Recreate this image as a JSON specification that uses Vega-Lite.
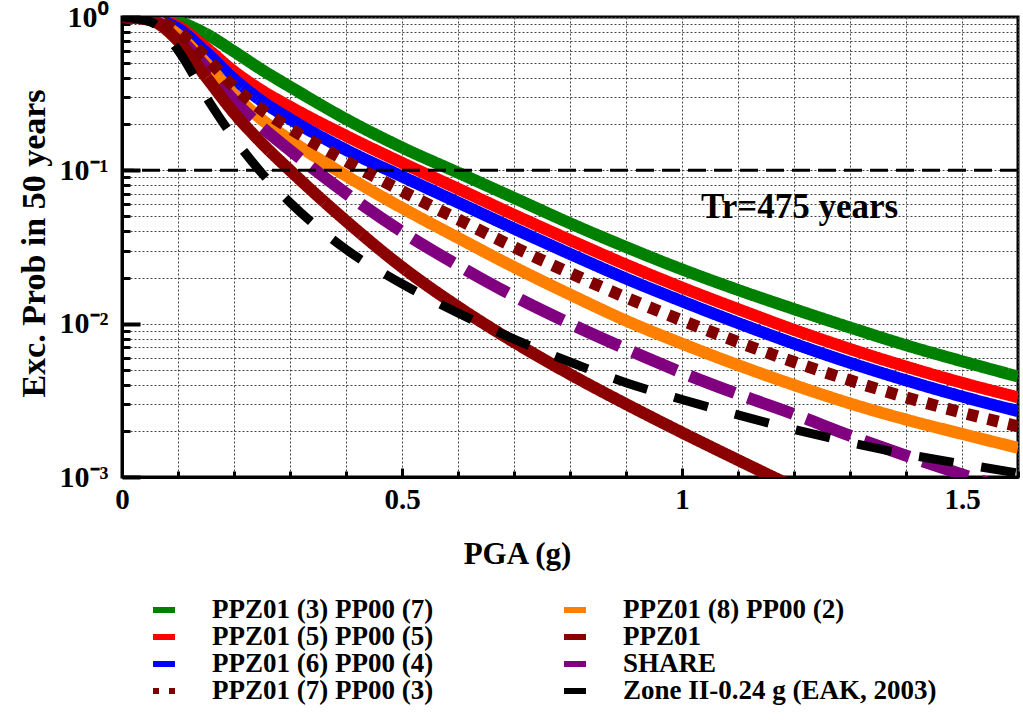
{
  "$schema": "https://vega.github.io/schema/vega-lite/v6.json",
  "width": 896,
  "height": 460,
  "autosize": {"type": "none"},
  "padding": {"left": 122, "top": 17, "right": 5, "bottom": 247},
  "background": "white",
  "config": {
    "view": {"stroke": "black", "strokeWidth": 3},
    "font": "Liberation Serif",
    "axis": {
      "domainColor": "black",
      "domainWidth": 3,
      "tickColor": "black",
      "gridColor": "#444444",
      "gridDash": [2, 2],
      "gridWidth": 1,
      "labelFont": "Liberation Serif",
      "labelFontWeight": "bold",
      "labelColor": "black",
      "titleFont": "Liberation Serif",
      "titleFontWeight": "bold",
      "titleColor": "black",
      "labelOverlap": false,
      "labelBound": false,
      "labelFlush": false
    },
    "legend": {
      "orient": "none",
      "legendX": 28,
      "legendY": 579,
      "direction": "vertical",
      "columns": 2,
      "symbolType": "stroke",
      "symbolSize": 484,
      "symbolStrokeWidth": 6,
      "symbolDashOffset": 5,
      "labelFont": "Liberation Serif",
      "labelFontWeight": "bold",
      "labelFontSize": 27,
      "labelColor": "black",
      "labelOffset": 34,
      "labelLimit": 400,
      "columnPadding": 118,
      "rowPadding": 0,
      "padding": 0,
      "title": null
    }
  },
  "datasets": {
    "curves": [
      {"series": "PPZ01 (3) PP00 (7)", "pga": 0, "p": 1},
      {"series": "PPZ01 (3) PP00 (7)", "pga": 0.05, "p": 0.993},
      {"series": "PPZ01 (3) PP00 (7)", "pga": 0.1, "p": 0.933},
      {"series": "PPZ01 (3) PP00 (7)", "pga": 0.15, "p": 0.776},
      {"series": "PPZ01 (3) PP00 (7)", "pga": 0.2, "p": 0.596},
      {"series": "PPZ01 (3) PP00 (7)", "pga": 0.25, "p": 0.452},
      {"series": "PPZ01 (3) PP00 (7)", "pga": 0.3, "p": 0.351},
      {"series": "PPZ01 (3) PP00 (7)", "pga": 0.4, "p": 0.216},
      {"series": "PPZ01 (3) PP00 (7)", "pga": 0.5, "p": 0.141},
      {"series": "PPZ01 (3) PP00 (7)", "pga": 0.6, "p": 0.0966},
      {"series": "PPZ01 (3) PP00 (7)", "pga": 0.7, "p": 0.0661},
      {"series": "PPZ01 (3) PP00 (7)", "pga": 0.8, "p": 0.0452},
      {"series": "PPZ01 (3) PP00 (7)", "pga": 0.9, "p": 0.0316},
      {"series": "PPZ01 (3) PP00 (7)", "pga": 1.0, "p": 0.0226},
      {"series": "PPZ01 (3) PP00 (7)", "pga": 1.1, "p": 0.0166},
      {"series": "PPZ01 (3) PP00 (7)", "pga": 1.2, "p": 0.01245},
      {"series": "PPZ01 (3) PP00 (7)", "pga": 1.3, "p": 0.00944},
      {"series": "PPZ01 (3) PP00 (7)", "pga": 1.4, "p": 0.00724},
      {"series": "PPZ01 (3) PP00 (7)", "pga": 1.5, "p": 0.00569},
      {"series": "PPZ01 (3) PP00 (7)", "pga": 1.6, "p": 0.00452},

      {"series": "PPZ01 (5) PP00 (5)", "pga": 0, "p": 1},
      {"series": "PPZ01 (5) PP00 (5)", "pga": 0.05, "p": 0.986},
      {"series": "PPZ01 (5) PP00 (5)", "pga": 0.1, "p": 0.871},
      {"series": "PPZ01 (5) PP00 (5)", "pga": 0.15, "p": 0.631},
      {"series": "PPZ01 (5) PP00 (5)", "pga": 0.2, "p": 0.442},
      {"series": "PPZ01 (5) PP00 (5)", "pga": 0.25, "p": 0.331},
      {"series": "PPZ01 (5) PP00 (5)", "pga": 0.3, "p": 0.26},
      {"series": "PPZ01 (5) PP00 (5)", "pga": 0.4, "p": 0.168},
      {"series": "PPZ01 (5) PP00 (5)", "pga": 0.5, "p": 0.112},
      {"series": "PPZ01 (5) PP00 (5)", "pga": 0.6, "p": 0.0759},
      {"series": "PPZ01 (5) PP00 (5)", "pga": 0.7, "p": 0.0513},
      {"series": "PPZ01 (5) PP00 (5)", "pga": 0.8, "p": 0.0351},
      {"series": "PPZ01 (5) PP00 (5)", "pga": 0.9, "p": 0.0243},
      {"series": "PPZ01 (5) PP00 (5)", "pga": 1.0, "p": 0.0172},
      {"series": "PPZ01 (5) PP00 (5)", "pga": 1.1, "p": 0.01245},
      {"series": "PPZ01 (5) PP00 (5)", "pga": 1.2, "p": 0.00912},
      {"series": "PPZ01 (5) PP00 (5)", "pga": 1.3, "p": 0.00684},
      {"series": "PPZ01 (5) PP00 (5)", "pga": 1.4, "p": 0.00525},
      {"series": "PPZ01 (5) PP00 (5)", "pga": 1.5, "p": 0.00412},
      {"series": "PPZ01 (5) PP00 (5)", "pga": 1.6, "p": 0.00331},

      {"series": "PPZ01 (6) PP00 (4)", "pga": 0, "p": 1},
      {"series": "PPZ01 (6) PP00 (4)", "pga": 0.05, "p": 0.98},
      {"series": "PPZ01 (6) PP00 (4)", "pga": 0.1, "p": 0.841},
      {"series": "PPZ01 (6) PP00 (4)", "pga": 0.15, "p": 0.589},
      {"series": "PPZ01 (6) PP00 (4)", "pga": 0.2, "p": 0.394},
      {"series": "PPZ01 (6) PP00 (4)", "pga": 0.25, "p": 0.282},
      {"series": "PPZ01 (6) PP00 (4)", "pga": 0.3, "p": 0.216},
      {"series": "PPZ01 (6) PP00 (4)", "pga": 0.4, "p": 0.136},
      {"series": "PPZ01 (6) PP00 (4)", "pga": 0.5, "p": 0.0912},
      {"series": "PPZ01 (6) PP00 (4)", "pga": 0.6, "p": 0.0617},
      {"series": "PPZ01 (6) PP00 (4)", "pga": 0.7, "p": 0.0417},
      {"series": "PPZ01 (6) PP00 (4)", "pga": 0.8, "p": 0.0285},
      {"series": "PPZ01 (6) PP00 (4)", "pga": 0.9, "p": 0.0197},
      {"series": "PPZ01 (6) PP00 (4)", "pga": 1.0, "p": 0.014},
      {"series": "PPZ01 (6) PP00 (4)", "pga": 1.1, "p": 0.0101},
      {"series": "PPZ01 (6) PP00 (4)", "pga": 1.2, "p": 0.00741},
      {"series": "PPZ01 (6) PP00 (4)", "pga": 1.3, "p": 0.00556},
      {"series": "PPZ01 (6) PP00 (4)", "pga": 1.4, "p": 0.00427},
      {"series": "PPZ01 (6) PP00 (4)", "pga": 1.5, "p": 0.00335},
      {"series": "PPZ01 (6) PP00 (4)", "pga": 1.6, "p": 0.00269},

      {"series": "PPZ01 (8) PP00 (2)", "pga": 0, "p": 1},
      {"series": "PPZ01 (8) PP00 (2)", "pga": 0.05, "p": 0.966},
      {"series": "PPZ01 (8) PP00 (2)", "pga": 0.1, "p": 0.767},
      {"series": "PPZ01 (8) PP00 (2)", "pga": 0.15, "p": 0.501},
      {"series": "PPZ01 (8) PP00 (2)", "pga": 0.2, "p": 0.313},
      {"series": "PPZ01 (8) PP00 (2)", "pga": 0.25, "p": 0.214},
      {"series": "PPZ01 (8) PP00 (2)", "pga": 0.3, "p": 0.158},
      {"series": "PPZ01 (8) PP00 (2)", "pga": 0.4, "p": 0.0923},
      {"series": "PPZ01 (8) PP00 (2)", "pga": 0.5, "p": 0.0569},
      {"series": "PPZ01 (8) PP00 (2)", "pga": 0.6, "p": 0.0363},
      {"series": "PPZ01 (8) PP00 (2)", "pga": 0.7, "p": 0.0234},
      {"series": "PPZ01 (8) PP00 (2)", "pga": 0.8, "p": 0.0155},
      {"series": "PPZ01 (8) PP00 (2)", "pga": 0.9, "p": 0.01047},
      {"series": "PPZ01 (8) PP00 (2)", "pga": 1.0, "p": 0.00741},
      {"series": "PPZ01 (8) PP00 (2)", "pga": 1.1, "p": 0.00537},
      {"series": "PPZ01 (8) PP00 (2)", "pga": 1.2, "p": 0.00398},
      {"series": "PPZ01 (8) PP00 (2)", "pga": 1.3, "p": 0.00302},
      {"series": "PPZ01 (8) PP00 (2)", "pga": 1.4, "p": 0.00237},
      {"series": "PPZ01 (8) PP00 (2)", "pga": 1.5, "p": 0.00191},
      {"series": "PPZ01 (8) PP00 (2)", "pga": 1.6, "p": 0.00155},

      {"series": "SHARE", "pga": 0, "p": 1},
      {"series": "SHARE", "pga": 0.05, "p": 0.962},
      {"series": "SHARE", "pga": 0.1, "p": 0.741},
      {"series": "SHARE", "pga": 0.15, "p": 0.468},
      {"series": "SHARE", "pga": 0.2, "p": 0.285},
      {"series": "SHARE", "pga": 0.25, "p": 0.191},
      {"series": "SHARE", "pga": 0.3, "p": 0.135},
      {"series": "SHARE", "pga": 0.4, "p": 0.0708},
      {"series": "SHARE", "pga": 0.5, "p": 0.0398},
      {"series": "SHARE", "pga": 0.6, "p": 0.024},
      {"series": "SHARE", "pga": 0.7, "p": 0.0151},
      {"series": "SHARE", "pga": 0.8, "p": 0.01},
      {"series": "SHARE", "pga": 0.9, "p": 0.00684},
      {"series": "SHARE", "pga": 1.0, "p": 0.00479},
      {"series": "SHARE", "pga": 1.1, "p": 0.00347},
      {"series": "SHARE", "pga": 1.2, "p": 0.00257},
      {"series": "SHARE", "pga": 1.3, "p": 0.00186},
      {"series": "SHARE", "pga": 1.4, "p": 0.00138},
      {"series": "SHARE", "pga": 1.5, "p": 0.00104},
      {"series": "SHARE", "pga": 1.6, "p": 0.00079},

      {"series": "PPZ01", "pga": 0, "p": 1},
      {"series": "PPZ01", "pga": 0.05, "p": 0.955},
      {"series": "PPZ01", "pga": 0.1, "p": 0.7},
      {"series": "PPZ01", "pga": 0.15, "p": 0.407},
      {"series": "PPZ01", "pga": 0.2, "p": 0.237},
      {"series": "PPZ01", "pga": 0.25, "p": 0.15},
      {"series": "PPZ01", "pga": 0.3, "p": 0.1},
      {"series": "PPZ01", "pga": 0.4, "p": 0.0468},
      {"series": "PPZ01", "pga": 0.5, "p": 0.0234},
      {"series": "PPZ01", "pga": 0.6, "p": 0.0129},
      {"series": "PPZ01", "pga": 0.7, "p": 0.00759},
      {"series": "PPZ01", "pga": 0.8, "p": 0.00468},
      {"series": "PPZ01", "pga": 0.9, "p": 0.00299},
      {"series": "PPZ01", "pga": 1.0, "p": 0.00195},
      {"series": "PPZ01", "pga": 1.1, "p": 0.00129},
      {"series": "PPZ01", "pga": 1.2, "p": 0.00086},

      {"series": "PPZ01 (7) PP00 (3)", "pga": 0, "p": 1},
      {"series": "PPZ01 (7) PP00 (3)", "pga": 0.05, "p": 0.973},
      {"series": "PPZ01 (7) PP00 (3)", "pga": 0.1, "p": 0.804},
      {"series": "PPZ01 (7) PP00 (3)", "pga": 0.15, "p": 0.543},
      {"series": "PPZ01 (7) PP00 (3)", "pga": 0.2, "p": 0.351},
      {"series": "PPZ01 (7) PP00 (3)", "pga": 0.25, "p": 0.248},
      {"series": "PPZ01 (7) PP00 (3)", "pga": 0.3, "p": 0.188},
      {"series": "PPZ01 (7) PP00 (3)", "pga": 0.4, "p": 0.115},
      {"series": "PPZ01 (7) PP00 (3)", "pga": 0.5, "p": 0.0733},
      {"series": "PPZ01 (7) PP00 (3)", "pga": 0.6, "p": 0.0479},
      {"series": "PPZ01 (7) PP00 (3)", "pga": 0.7, "p": 0.0316},
      {"series": "PPZ01 (7) PP00 (3)", "pga": 0.8, "p": 0.0214},
      {"series": "PPZ01 (7) PP00 (3)", "pga": 0.9, "p": 0.0148},
      {"series": "PPZ01 (7) PP00 (3)", "pga": 1.0, "p": 0.0105},
      {"series": "PPZ01 (7) PP00 (3)", "pga": 1.1, "p": 0.00759},
      {"series": "PPZ01 (7) PP00 (3)", "pga": 1.2, "p": 0.00562},
      {"series": "PPZ01 (7) PP00 (3)", "pga": 1.3, "p": 0.00427},
      {"series": "PPZ01 (7) PP00 (3)", "pga": 1.4, "p": 0.00331},
      {"series": "PPZ01 (7) PP00 (3)", "pga": 1.5, "p": 0.00263},
      {"series": "PPZ01 (7) PP00 (3)", "pga": 1.6, "p": 0.00214},

      {"series": "Zone II-0.24 g (EAK, 2003)", "pga": 0, "p": 1},
      {"series": "Zone II-0.24 g (EAK, 2003)", "pga": 0.05, "p": 0.933},
      {"series": "Zone II-0.24 g (EAK, 2003)", "pga": 0.1, "p": 0.607},
      {"series": "Zone II-0.24 g (EAK, 2003)", "pga": 0.15, "p": 0.302},
      {"series": "Zone II-0.24 g (EAK, 2003)", "pga": 0.2, "p": 0.162},
      {"series": "Zone II-0.24 g (EAK, 2003)", "pga": 0.25, "p": 0.0955},
      {"series": "Zone II-0.24 g (EAK, 2003)", "pga": 0.3, "p": 0.0617},
      {"series": "Zone II-0.24 g (EAK, 2003)", "pga": 0.4, "p": 0.0305},
      {"series": "Zone II-0.24 g (EAK, 2003)", "pga": 0.5, "p": 0.0182},
      {"series": "Zone II-0.24 g (EAK, 2003)", "pga": 0.6, "p": 0.01175},
      {"series": "Zone II-0.24 g (EAK, 2003)", "pga": 0.7, "p": 0.00794},
      {"series": "Zone II-0.24 g (EAK, 2003)", "pga": 0.8, "p": 0.00562},
      {"series": "Zone II-0.24 g (EAK, 2003)", "pga": 0.9, "p": 0.00412},
      {"series": "Zone II-0.24 g (EAK, 2003)", "pga": 1.0, "p": 0.0032},
      {"series": "Zone II-0.24 g (EAK, 2003)", "pga": 1.1, "p": 0.00254},
      {"series": "Zone II-0.24 g (EAK, 2003)", "pga": 1.2, "p": 0.00204},
      {"series": "Zone II-0.24 g (EAK, 2003)", "pga": 1.3, "p": 0.00168},
      {"series": "Zone II-0.24 g (EAK, 2003)", "pga": 1.4, "p": 0.00141},
      {"series": "Zone II-0.24 g (EAK, 2003)", "pga": 1.5, "p": 0.00122},
      {"series": "Zone II-0.24 g (EAK, 2003)", "pga": 1.6, "p": 0.00106}
    ]
  },
  "layer": [
    {
      "data": {"name": "curves"},
      "transform": [{"filter": "datum.series != 'Zone II-0.24 g (EAK, 2003)'"}],
      "mark": {"type": "line", "strokeWidth": 12, "strokeCap": "butt", "clip": true, "interpolate": "monotone"},
      "encoding": {
        "x": {
          "field": "pga", "type": "quantitative",
          "scale": {"domain": [0, 1.6], "nice": false, "zero": false},
          "axis": {
            "title": "PGA (g)",
            "titleFontSize": 31,
            "titleX": 395,
            "titleY": 86,
            "titleAlign": "center",
            "titleBaseline": "alphabetic",
            "values": [0, 0.1, 0.2, 0.3, 0.4, 0.5, 0.6, 0.7, 0.8, 0.9, 1, 1.1, 1.2, 1.3, 1.4, 1.5, 1.6],
            "labelExpr": "datum.value==0?'0':datum.value==0.5?'0.5':datum.value==1?'1':datum.value==1.5?'1.5':''",
            "labelFontSize": 29,
            "labelPadding": 17,
            "tickSize": {"condition": {"test": "datum.value==0||datum.value==0.5||datum.value==1||datum.value==1.5", "value": -9}, "value": -6},
            "tickWidth": 3
          }
        },
        "y": {
          "field": "p", "type": "quantitative",
          "scale": {"type": "log", "domain": [0.001, 1], "nice": false},
          "axis": {
            "title": "Exc. Prob in 50 years",
            "titleFontSize": 34,
            "titleAngle": -90,
            "titleX": -88,
            "titleY": 226,
            "titleAlign": "center",
            "titleBaseline": "middle",
            "values": [0.001, 0.002, 0.003, 0.004, 0.005, 0.006, 0.007, 0.008, 0.009, 0.01, 0.02, 0.03, 0.04, 0.05, 0.06, 0.07, 0.08, 0.09, 0.1, 0.2, 0.3, 0.4, 0.5, 0.6, 0.7, 0.8, 0.9, 1],
            "labelExpr": "datum.value==1?'10⁰':datum.value==0.1?'10⁻¹':datum.value==0.01?'10⁻²':datum.value==0.001?'10⁻³':''",
            "labelFontSize": 30,
            "labelPadding": 32,
            "tickSize": {"condition": {"test": "datum.value==1||datum.value==0.1||datum.value==0.01||datum.value==0.001", "value": -18}, "value": -8},
            "tickWidth": {"condition": {"test": "datum.value==1||datum.value==0.1||datum.value==0.01||datum.value==0.001", "value": 4}, "value": 3}
          }
        },
        "color": {
          "field": "series", "type": "nominal",
          "scale": {
            "domain": ["PPZ01 (3) PP00 (7)", "PPZ01 (5) PP00 (5)", "PPZ01 (6) PP00 (4)", "PPZ01 (7) PP00 (3)", "PPZ01 (8) PP00 (2)", "PPZ01", "SHARE", "Zone II-0.24 g (EAK, 2003)"],
            "range": ["#008000", "#FF0000", "#0000FF", "#800000", "#FF8000", "#8B0000", "#800080", "#000000"]
          },
          "legend": {"title": null}
        },
        "strokeDash": {
          "field": "series", "type": "nominal",
          "scale": {
            "domain": ["PPZ01 (3) PP00 (7)", "PPZ01 (5) PP00 (5)", "PPZ01 (6) PP00 (4)", "PPZ01 (7) PP00 (3)", "PPZ01 (8) PP00 (2)", "PPZ01", "SHARE", "Zone II-0.24 g (EAK, 2003)"],
            "range": [[1, 0], [1, 0], [1, 0], [11, 10], [1, 0], [1, 0], [48, 14], [35, 28]]
          },
          "legend": {"title": null}
        }
      }
    },
    {
      "data": {"name": "curves"},
      "transform": [{"filter": "datum.series == 'Zone II-0.24 g (EAK, 2003)'"}],
      "mark": {"type": "line", "strokeWidth": 9, "strokeCap": "butt", "clip": true, "interpolate": "monotone"},
      "encoding": {
        "x": {"field": "pga", "type": "quantitative"},
        "y": {"field": "p", "type": "quantitative"},
        "color": {"field": "series", "type": "nominal", "legend": {"title": null}},
        "strokeDash": {"field": "series", "type": "nominal", "legend": {"title": null}}
      }
    },
    {
      "data": {"values": [{"p": 0.1}]},
      "mark": {"type": "rule", "color": "black", "strokeWidth": 3, "strokeDash": [18, 8]},
      "encoding": {"y": {"field": "p", "type": "quantitative"}}
    },
    {
      "data": {"values": [{"pga": 1.21, "p": 0.049, "label": "Tr=475 years"}]},
      "mark": {"type": "text", "font": "Liberation Serif", "fontWeight": "bold", "fontSize": 35, "align": "center", "baseline": "alphabetic", "color": "black"},
      "encoding": {
        "x": {"field": "pga", "type": "quantitative"},
        "y": {"field": "p", "type": "quantitative"},
        "text": {"field": "label"}
      }
    }
  ]
}
